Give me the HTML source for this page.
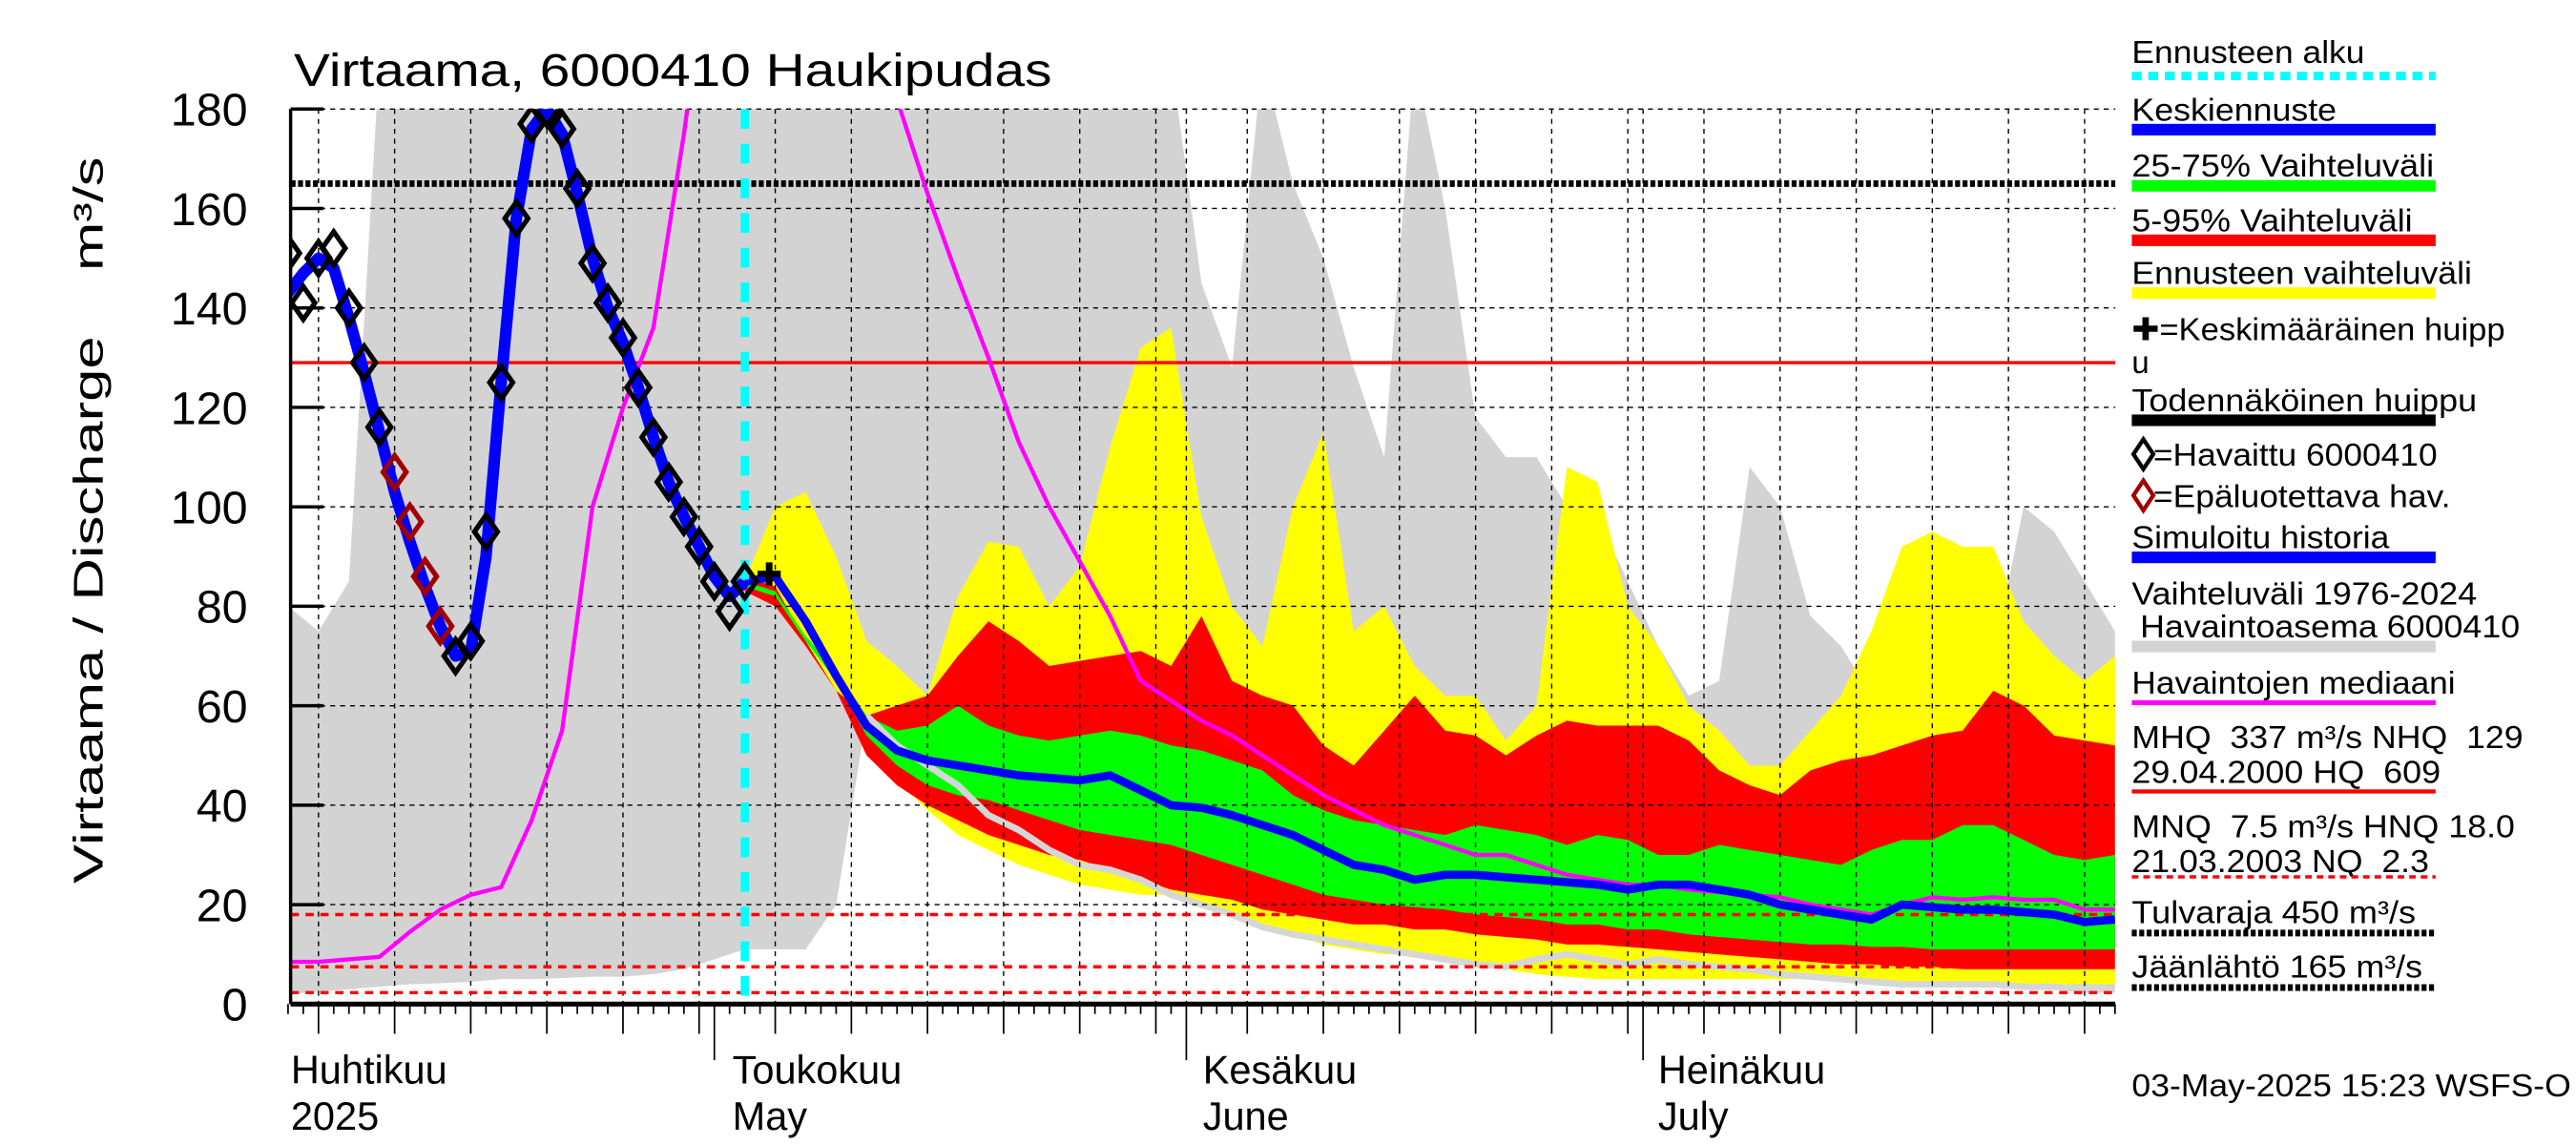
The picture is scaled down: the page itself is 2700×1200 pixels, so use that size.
<!DOCTYPE html>
<html><head><meta charset="utf-8"><title>Virtaama 6000410 Haukipudas</title>
<style>
html,body{margin:0;padding:0;background:#fff;}
svg{display:block;font-family:"Liberation Sans",Arial,sans-serif;}
</style></head>
<body>
<svg id="chart" width="2700" height="1200" viewBox="0 0 1560 693.33" preserveAspectRatio="none" xmlns="http://www.w3.org/2000/svg">
<defs><clipPath id="plotclip"><rect x="176" y="66" width="1105" height="542"/></clipPath></defs>
<rect x="0" y="0" width="1560" height="694" fill="#fff"/>
<text x="178" y="52" font-size="28" textLength="459" lengthAdjust="spacingAndGlyphs">Virtaama, 6000410 Haukipudas</text>
<text transform="translate(62,315) rotate(-90)" text-anchor="middle" font-size="25" textLength="440" lengthAdjust="spacingAndGlyphs" xml:space="preserve">Virtaama / Discharge    m³/s</text>
<g id="bands" clip-path="url(#plotclip)"></g>
<g id="grid"></g>
<g id="refs"></g>
<g id="lines" clip-path="url(#plotclip)"></g>
<g id="axes"></g>
<g id="legend" font-size="19">
  <text x="1291" y="38" textLength="141" lengthAdjust="spacingAndGlyphs">Ennusteen alku</text>
  <line x1="1291" y1="46" x2="1475" y2="46" stroke="#00ffff" stroke-width="5" stroke-dasharray="6,4"/>
  <text x="1291" y="73" textLength="124" lengthAdjust="spacingAndGlyphs">Keskiennuste</text>
  <rect x="1291" y="75" width="184" height="7" fill="#0000ff"/>
  <text x="1291" y="107" textLength="183" lengthAdjust="spacingAndGlyphs">25-75% Vaihteluväli</text>
  <rect x="1291" y="109" width="184" height="7" fill="#00ff00"/>
  <text x="1291" y="140" textLength="170" lengthAdjust="spacingAndGlyphs">5-95% Vaihteluväli</text>
  <rect x="1291" y="142" width="184" height="7" fill="#ff0000"/>
  <text x="1291" y="172" textLength="206" lengthAdjust="spacingAndGlyphs">Ennusteen vaihteluväli</text>
  <rect x="1291" y="174" width="184" height="7" fill="#ffff00"/>
  <text x="1291" y="206" textLength="226" lengthAdjust="spacingAndGlyphs">✚=Keskimääräinen huipp</text>
  <text x="1291" y="226">u</text>
  <text x="1291" y="249" textLength="209" lengthAdjust="spacingAndGlyphs">Todennäköinen huippu</text>
  <rect x="1291" y="251" width="184" height="7" fill="#000"/>
  <path d="M1292,275 l6,-9 l6,9 l-6,9 z" fill="none" stroke="#000" stroke-width="2.5"/>
  <text x="1304" y="282" textLength="172" lengthAdjust="spacingAndGlyphs">=Havaittu 6000410</text>
  <path d="M1292,300 l6,-9 l6,9 l-6,9 z" fill="none" stroke="#a00000" stroke-width="2.5"/>
  <text x="1304" y="307" textLength="180" lengthAdjust="spacingAndGlyphs">=Epäluotettava hav.</text>
  <text x="1291" y="332" textLength="156" lengthAdjust="spacingAndGlyphs">Simuloitu historia</text>
  <rect x="1291" y="334" width="184" height="7" fill="#0000ff"/>
  <text x="1291" y="366" textLength="209" lengthAdjust="spacingAndGlyphs">Vaihteluväli 1976-2024</text>
  <text x="1296" y="386" textLength="230" lengthAdjust="spacingAndGlyphs">Havaintoasema 6000410</text>
  <rect x="1291" y="388" width="184" height="7" fill="#d3d3d3"/>
  <text x="1291" y="420" textLength="196" lengthAdjust="spacingAndGlyphs">Havaintojen mediaani</text>
  <rect x="1291" y="424" width="184" height="3" fill="#ff00ff"/>
  <text x="1291" y="453" textLength="237" lengthAdjust="spacingAndGlyphs" xml:space="preserve">MHQ  337 m³/s NHQ  129</text>
  <text x="1291" y="474" textLength="187" lengthAdjust="spacingAndGlyphs" xml:space="preserve">29.04.2000 HQ  609</text>
  <rect x="1291" y="478" width="184" height="2.5" fill="#ff0000"/>
  <text x="1291" y="507" textLength="232" lengthAdjust="spacingAndGlyphs" xml:space="preserve">MNQ  7.5 m³/s HNQ 18.0</text>
  <text x="1291" y="528" textLength="180" lengthAdjust="spacingAndGlyphs" xml:space="preserve">21.03.2003 NQ  2.3</text>
  <line x1="1291" y1="531" x2="1475" y2="531" stroke="#ff0000" stroke-width="2" stroke-dasharray="4,3"/>
  <text x="1291" y="559" textLength="172" lengthAdjust="spacingAndGlyphs">Tulvaraja 450 m³/s</text>
  <line x1="1291" y1="565" x2="1475" y2="565" stroke="#000" stroke-width="4" stroke-dasharray="3,1.5"/>
  <text x="1291" y="592" textLength="176" lengthAdjust="spacingAndGlyphs">Jäänlähtö 165 m³/s</text>
  <line x1="1291" y1="598" x2="1475" y2="598" stroke="#000" stroke-width="4" stroke-dasharray="3,1.5"/>
  <text x="1291" y="664" textLength="266" lengthAdjust="spacingAndGlyphs">03-May-2025 15:23 WSFS-O</text>
</g>
</svg>
<script>
// ---- data (day index: 0 = 1 April 2025) ----
const histDays = [2,3,4,5,6,7,8,9,10,11,12,13,14,15,16,17,18,19,20,21,22,23,24,25,26,27,28,29,30,31,32];
const histSim = [143,147,150,148,138,127,115,103,93,84,76,70,71,90,125,158,176,180,175,163,150,140,133,124,114,105,98,92,86,82,85];
const observed = [151,141,150,152,140,129,116,107,97,86,76,70,73,95,125,158,177,180,176,164,149,141,134,124,114,105,98,92,85,79,85];
const unreliable = [0,0,0,0,0,0,0,1,1,1,1,0,0,0,0,0,0,0,0,0,0,0,0,0,0,0,0,0,0,0,0];

const longDays = [2,4,6,8,10,12,14,16,18,20,22,24,26,28,30,32,34,36,38,40,42,44,46,48,50,52,54,56,58,60,62,64,66,68,70,72,74,76,78,80,82,84,86,88,90,92,94,96,98,100,102,104,106,108,110,112,114,116,118,120,122];
const grayUpper = [80,75,85,190,190,190,190,190,190,190,190,190,190,190,190,190,190,190,190,190,190,190,190,190,190,190,190,190,190,190,145,128,190,165,150,128,110,190,160,118,110,110,100,98,85,72,62,65,108,100,78,72,62,75,90,72,70,100,95,85,75];
const grayLower = [2,2.5,3,3.5,4,4.2,4.5,5,5,5.2,5.5,5.5,6,7,9,11,11,11,20,58,52,48,44,38,35,31,28,27,25,22,20,18,15.5,14,13,12,11,10,9,8,7.5,9,10,9,8,9,8,7.5,7,6,5.5,5,4.5,4,4,4,4,3.5,3.5,3,3];
const median = [8.5,8.5,9,9.5,14.5,19,22,23.5,37,55,100,120,136,175,220,220,220,220,220,220,182,163,146,130,113,100,89,78,65,61,57,54,50,46,42,39,36,34,32,30,30,28,26,25,24,24,23,22.5,22,21.5,20,19,18,20,21.5,21,21.5,21,21,19,19];

const fcDays = [32,34,36,38,40,42,44,46,48,50,52,54,56,58,60,62,64,66,68,70,72,74,76,78,80,82,84,86,88,90,92,94,96,98,100,102,104,106,108,110,112,114,116,118,120,122];
const yellowUpper = [85,100,103,90,73,68,62,82,93,92,80,88,112,132,136,98,80,72,100,115,75,80,68,62,62,53,60,108,105,80,72,60,55,48,48,55,62,75,92,95,92,92,77,70,65,70];
const yellowLower = [83,80,73,63,51,45,39,34,31,28,26,24,23,22,22,20,18,16,14,12,11,10,10,9,8,7,6,5.5,5,5,5,5,5,5,5,5,4.5,4.5,4.5,4,4,4,4,4,4,4];
const redUpper = [86,84,73,63,58,60,62,70,77,73,68,69,70,71,68,78,65,62,60,52,48,55,62,55,54,50,54,57,56,56,56,53,47,44,42,47,49,50,52,54,55,63,60,54,53,52];
const redLower = [83,80,72,63,50,44,40,37,34,32,30,29,27,25,23,22,21,19,18,17,16,16,15,15,14,13.5,13,12,12,11.5,11,10.5,10,9.5,9,8.5,8,8,7.5,7.5,7,7,7,7,7,7];
const greenUpper = [85,83,74,67,58,55,56,60,56,54,53,54,55,54,52,51,49,47,42,39,37,36,35,34,36,35,34,32,34,33,30,30,32,31,30,29,28,31,33,33,36,36,33,30,29,30];
const greenLower = [84,82,73,65,54,48,44,42,41,39,37,35,34,33,32,30,28,26,24,22,21,20,19.5,19,18,17.5,17,16,16,15,15,14,13.5,13,12.5,12,12,11.5,11.5,11,11,11,11,11,11,11];
const meanForecast = [85,86,77,66,56,51,49,48,47,46,45.5,45,46,43,40,39.5,38,36,34,31,28,27,25,26,26,25.5,25,24.5,24,23,24,24,23,22,20,19,18,17,20,19.5,19,19,18.5,18,16.5,17];

const forecastStartDay = 32;
const meanPeak = [33.6, 86.5];
const refFlood = 165;
const refMHQ = 129;
const refLines = [18.0, 7.5, 2.3];
const yTicks = [0,20,40,60,80,100,120,140,160,180];
const gridDays = [4,9,14,19,24,29,34,39,44,49,54,59,61,65,70,75,80,85,90,91,95,100,105,110,115,120];
const monthDays = [30,61,91];
const monthLabels = [["Huhtikuu","2025",2.4],["Toukokuu","May",31.4],["Kesäkuu","June",62.3],["Heinäkuu","July",92.2]];

// ---- axes ----
const X0 = 176, X1 = 1281, YTOP = 66, YBOT = 608;
function X(d){ return 156 + 9.22 * d; }
function Y(v){ return 608 - 3.011 * v; }
const NS = "http://www.w3.org/2000/svg";
function mk(tag, attrs, parent){ const e = document.createElementNS(NS, tag); for (const k in attrs) e.setAttribute(k, attrs[k]); parent.appendChild(e); return e; }
function linePath(days, vals){ return days.map((d,i)=>(i?'L':'M')+X(d).toFixed(1)+','+Y(vals[i]).toFixed(1)).join(''); }
function bandPath(days, up, lo){
  let p = days.map((d,i)=>(i?'L':'M')+X(d).toFixed(1)+','+Y(up[i]).toFixed(1)).join('');
  for (let i=days.length-1;i>=0;i--) p += 'L'+X(days[i]).toFixed(1)+','+Y(lo[i]).toFixed(1);
  return p+'Z';
}
const bands = document.getElementById('bands');
const grid = document.getElementById('grid');
const refs = document.getElementById('refs');
const lines = document.getElementById('lines');
const axes = document.getElementById('axes');

let el;
el = mk('path', {d: bandPath(longDays, grayUpper, grayLower), fill:'#d3d3d3'}, bands);


el = mk('path', {d: bandPath(fcDays, yellowUpper, yellowLower), fill:'#ffff00'}, bands);


el = mk('path', {d: bandPath(fcDays, redUpper, redLower), fill:'#ff0000'}, bands);


el = mk('path', {d: bandPath(fcDays, greenUpper, greenLower), fill:'#00ff00'}, bands);


const lgIdx = longDays.map((d,i)=>i).filter(i=>longDays[i]>=40);
el = mk('path', {d: linePath(lgIdx.map(i=>longDays[i]), lgIdx.map(i=>grayLower[i])), fill:'none', stroke:'#d6d6d6', 'stroke-width':4}, bands);



// grid
yTicks.forEach(v=>{
  if (v===0) return;
  const g = mk('line', {x1:X0, x2:X1, y1:Y(v), y2:Y(v), stroke:'#000', 'stroke-width':0.8, 'stroke-dasharray':'3,3'}, grid);
  
  
});
gridDays.forEach(d=>{
  const g = mk('line', {x1:X(d), x2:X(d), y1:YTOP, y2:YBOT, stroke:'#000', 'stroke-width':0.8, 'stroke-dasharray':'3,3'}, grid);
  
  
});

// reference lines
el = mk('line', {x1:X0, x2:X1, y1:Y(refFlood), y2:Y(refFlood), stroke:'#000', 'stroke-width':4, 'stroke-dasharray':'3,1.5'}, refs);


el = mk('line', {x1:X0, x2:X1, y1:Y(refMHQ), y2:Y(refMHQ), stroke:'#ff0000', 'stroke-width':2}, refs);


refLines.forEach(v=>{
  const r = mk('line', {x1:X0, x2:X1, y1:Y(v), y2:Y(v), stroke:'#ff0000', 'stroke-width':2, 'stroke-dasharray':'5,4'}, refs);
  
  
});

// lines
el = mk('path', {d: linePath(longDays, median), fill:'none', stroke:'#ff00ff', 'stroke-width':2.5}, lines);


el = mk('path', {d: linePath(histDays, histSim), fill:'none', stroke:'#0000ff', 'stroke-width':7, 'stroke-linejoin':'round'}, lines);


el = mk('path', {d: linePath(fcDays, meanForecast), fill:'none', stroke:'#0000ff', 'stroke-width':5, 'stroke-linejoin':'round'}, lines);


el = mk('line', {x1:X(forecastStartDay), x2:X(forecastStartDay), y1:YTOP, y2:YBOT, stroke:'#00ffff', 'stroke-width':5, 'stroke-dasharray':'12,9'}, lines);


histDays.forEach((d,i)=>{
  const cx = X(d), cy = Y(observed[i]);
  const m = mk('path', {d:`M${cx-7},${cy} L${cx},${cy-10} L${cx+7},${cy} L${cx},${cy+10} Z`, fill:'none', stroke: unreliable[i] ? '#a00000' : '#000', 'stroke-width':3}, lines);
  
  
});
{
  const cx = X(meanPeak[0]), cy = Y(meanPeak[1]);
  el = mk('path', {d:`M${cx-7},${cy}H${cx+7}M${cx},${cy-7}V${cy+7}`, stroke:'#000', 'stroke-width':4}, lines);
  
  
}

// axes
el = mk('line', {x1:X0, x2:X0, y1:YTOP, y2:YBOT, stroke:'#000', 'stroke-width':2}, axes);


el = mk('line', {x1:X0, x2:X1, y1:YBOT, y2:YBOT, stroke:'#000', 'stroke-width':3}, axes);


yTicks.forEach(v=>{
  const t = mk('line', {x1:X0, x2:X0+20, y1:Y(v), y2:Y(v), stroke:'#000', 'stroke-width':2}, axes);
  
  
  const lb = mk('text', {x:150, y:Y(v)+10, 'text-anchor':'end', 'font-size':28}, axes);
  lb.textContent = String(v);
  
  
});
for (let d = 2; d <= 122; d++) {
  const isMonth = monthDays.includes(d);
  const isGrid = gridDays.includes(d);
  const len = isMonth ? 34 : (isGrid ? 18 : 6);
  const t = mk('line', {x1:X(d), x2:X(d), y1:YBOT, y2:YBOT+len, stroke:'#000', 'stroke-width':1}, axes);
  
  
}
monthLabels.forEach(m=>{
  const a = mk('text', {x:X(m[2]) - 2, y:656, 'font-size':24}, axes);
  a.textContent = m[0];
  
  
  const b = mk('text', {x:X(m[2]) - 2, y:684, 'font-size':24}, axes);
  b.textContent = m[1];
  
  
});
</script>
</body></html>
